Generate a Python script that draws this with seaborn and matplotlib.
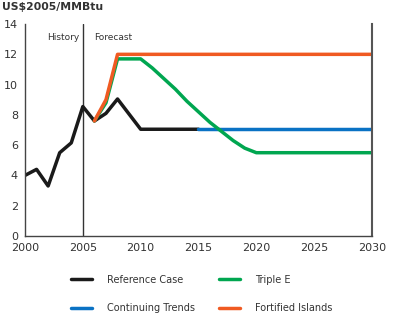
import matplotlib
matplotlib.use("Agg")
import matplotlib.pyplot as plt
import seaborn as sns
import pandas as pd
from matplotlib.lines import Line2D

# Data
ref_years = [2000, 2001, 2002, 2003, 2004, 2005, 2006, 2007, 2008, 2010, 2015]
ref_vals = [4.0, 4.4, 3.3, 5.5, 6.15, 8.55, 7.6, 8.1, 9.05, 7.05, 7.05]

trend_years = [2015, 2030]
trend_vals = [7.05, 7.05]

triple_years = [2006, 2007, 2008, 2010, 2011, 2012, 2013, 2014, 2015, 2016, 2017, 2018, 2019, 2020, 2030]
triple_vals = [7.6, 8.8, 11.7, 11.7, 11.1, 10.4, 9.7, 8.9, 8.2, 7.5, 6.9, 6.3, 5.8, 5.5, 5.5]

fort_years = [2006, 2007, 2008, 2030]
fort_vals = [7.6, 9.0, 12.0, 12.0]

series_names = ["Reference Case", "Continuing Trends", "Triple E", "Fortified Islands"]
colors = {"Reference Case": "#1a1a1a", "Continuing Trends": "#0a72c4",
          "Triple E": "#00a650", "Fortified Islands": "#f05a22"}

y_ticks = [0, 2, 4, 6, 8, 10, 12, 14]
x_ticks = [2000, 2005, 2010, 2015, 2020, 2025, 2030]
title = "US$2005/MMBtu"

frames = []
for name, xs, ys in [("Reference Case", ref_years, ref_vals),
                     ("Continuing Trends", trend_years, trend_vals),
                     ("Triple E", triple_years, triple_vals),
                     ("Fortified Islands", fort_years, fort_vals)]:
    frames.append(pd.DataFrame({"year": xs, "value": ys, "series": name}))
df = pd.concat(frames, ignore_index=True)

sns.set_style("white")
plt.rcParams["font.family"] = ["DejaVu Sans"]

fig = plt.figure(figsize=(4.0, 3.21), dpi=100)
ax = fig.add_axes([0.0625, 0.265, 0.8675, 0.66])

sns.lineplot(data=df, x="year", y="value", hue="series", hue_order=series_names,
             palette=colors, linewidth=2.5, ax=ax, legend=False, sort=False,
             estimator=None)

ax.axvline(2005, color="#333333", linewidth=1.0, zorder=0)
ax.text(2001.9, 13.1, "History", fontsize=6.5, color="#333333", va="center")
ax.text(2006.0, 13.1, "Forecast", fontsize=6.5, color="#333333", va="center")

ax.set_xlim(2000, 2030)
ax.set_ylim(0, 14)
ax.set_xticks(x_ticks)
ax.set_yticks(y_ticks)
ax.set_xlabel("")
ax.set_ylabel("")
ax.tick_params(axis="both", direction="inout", length=6, width=0.8,
               labelsize=8, colors="#333333", pad=2)
for s in ["left", "bottom", "right"]:
    ax.spines[s].set_visible(True)
    ax.spines[s].set_color("#444444")
    ax.spines[s].set_linewidth(1.0)
ax.spines["right"].set_color("#555555")
ax.spines["right"].set_linewidth(1.5)
ax.spines["top"].set_visible(False)

fig.text(0.005, 0.995, title, fontsize=7.8, fontweight="bold", color="#333333",
         va="top", ha="left")

handles = [Line2D([], [], color=colors[n], linewidth=2.5) for n in series_names]
fig.legend(handles, series_names, ncol=2, loc="upper left",
           bbox_to_anchor=(0.155, 0.171), frameon=False, fontsize=7,
           handlelength=2.2, handletextpad=1.5, columnspacing=2.5,
           labelspacing=1.9, labelcolor="#333333")

fig.savefig("out.png", dpi=100)
